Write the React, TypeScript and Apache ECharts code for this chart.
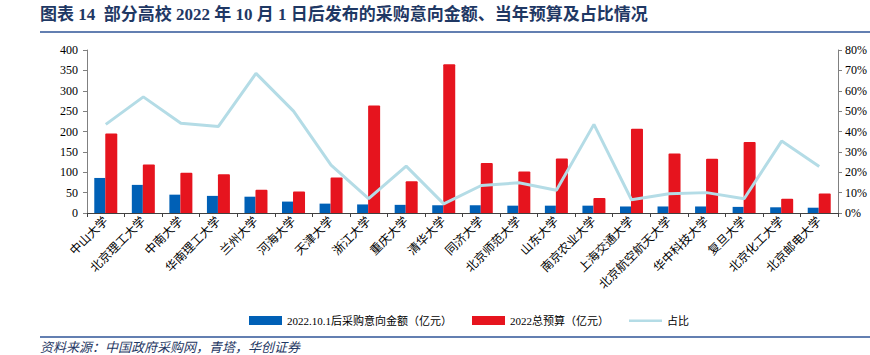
import React, { useEffect, useRef } from "react";
import * as echarts from "echarts";

const categories = [
  "中山大学", "北京理工大学", "中南大学", "华南理工大学", "兰州大学", "河海大学", "天津大学",
  "浙江大学", "重庆大学", "清华大学", "同济大学", "北京师范大学", "山东大学", "南京农业大学",
  "上海交通大学", "北京航空航天大学", "华中科技大学", "复旦大学", "北京化工大学", "北京邮电大学",
];
const intentAmount = [86, 69, 45, 42, 40, 28, 23, 21, 20, 19, 19, 18, 18, 18, 16, 16, 16, 15, 14, 13];
const budget2022 = [195, 119, 99, 95, 57, 53, 87, 264, 78, 365, 123, 102, 134, 37, 207, 146, 133, 174, 35, 48];
const ratioPct = [43.5, 57, 44, 42.5, 68.5, 50, 23.5, 7, 23, 4.5, 13.5, 14.8, 11.2, 43.5, 6.5, 9.4, 10, 7, 35.3, 22.8];

const seriesNames = ["2022.10.1后采购意向金额（亿元）", "2022总预算（亿元）", "占比"];
const titleText = "图表 14  部分高校 2022 年 10 月 1 日后发布的采购意向金额、当年预算及占比情况";
const sourceText = "资料来源：中国政府采购网，青塔，华创证券";

const SERIF = "'Liberation Serif', 'Times New Roman', 'Noto Sans CJK SC', serif";
const NAVY = "#1F3864";
const LINE_ICON = "path://M0,0 L0.01,0 L0.01,0.01 Z M0,3.5 L33,3.5 L33,6 L0,6 Z M0,9 L0.01,9 L0.01,8.99 Z";

export default function App() {
  const ref = useRef<HTMLDivElement>(null);
  useEffect(() => {
    if (!ref.current) return;
    const chart = echarts.init(ref.current, null, { renderer: "svg" });
    chart.setOption({
      animation: false,
      backgroundColor: "#ffffff",
      textStyle: { fontFamily: SERIF },
      grid: { left: 87, right: 25, top: 50, bottom: 142, containLabel: false },
      legend: {
        top: 310,
        left: 244,
        itemWidth: 33,
        itemHeight: 9,
        itemGap: 20,
        textStyle: { fontFamily: SERIF, fontSize: 11, color: "#000" },
        data: [
          { name: seriesNames[0], icon: "rect" },
          { name: seriesNames[1], icon: "rect" },
          { name: seriesNames[2], icon: LINE_ICON },
        ],
      },
      xAxis: {
        type: "category",
        data: categories,
        axisLine: { lineStyle: { color: "#404040", width: 1 } },
        axisTick: { show: true, alignWithLabel: false, length: 4, lineStyle: { color: "#404040" } },
        axisLabel: {
          rotate: 45,
          interval: 0,
          margin: 6,
          fontSize: 12,
          color: "#000",
          fontFamily: SERIF,
        },
      },
      yAxis: [
        {
          type: "value",
          min: 0,
          max: 400,
          interval: 50,
          splitLine: { show: false },
          axisLine: { show: true, lineStyle: { color: "#808080" } },
          axisTick: { show: true, length: 4, lineStyle: { color: "#808080" } },
          axisLabel: { fontSize: 12, color: "#000", margin: 9, fontFamily: SERIF },
        },
        {
          type: "value",
          min: 0,
          max: 80,
          interval: 10,
          position: "right",
          splitLine: { show: false },
          axisLine: { show: true, lineStyle: { color: "#808080" } },
          axisTick: { show: true, length: 4, lineStyle: { color: "#808080" } },
          axisLabel: { fontSize: 12, color: "#000", margin: 7, formatter: "{value}%", fontFamily: SERIF },
        },
      ],
      series: [
        {
          name: seriesNames[0],
          type: "bar",
          data: intentAmount,
          barWidth: 11,
          barGap: "0%",
          itemStyle: { color: "#0060B6" },
        },
        {
          name: seriesNames[1],
          type: "bar",
          data: budget2022,
          barWidth: 12,
          barGap: "0%",
          itemStyle: { color: "#E6141E", borderRadius: [1, 1, 0, 0] },
        },
        {
          name: seriesNames[2],
          type: "line",
          yAxisIndex: 1,
          data: ratioPct,
          symbol: "none",
          showSymbol: false,
          lineStyle: { color: "#B4DCE6", width: 3 },
          itemStyle: { color: "#B4DCE6" },
        },
      ],
      graphic: [
        {
          type: "text",
          left: 40,
          top: 6,
          style: {
            text: titleText,
            font: `bold 17px ${SERIF}`,
            fill: NAVY,
          },
        },
        {
          type: "line",
          shape: { x1: 40, y1: 32, x2: 870, y2: 32 },
          style: { stroke: "#2F5597", lineWidth: 1.5 },
        },
        {
          type: "line",
          shape: { x1: 40, y1: 337, x2: 870, y2: 337 },
          style: { stroke: "#2F5597", lineWidth: 1.5 },
        },
        {
          type: "text",
          left: 40,
          top: 341,
          style: {
            text: sourceText,
            font: `italic 13px ${SERIF}`,
            fill: NAVY,
          },
        },
      ],
    });
    return () => chart.dispose();
  }, []);
  return (
    <div
      ref={ref}
      style={{ position: "fixed", left: 0, top: 0, width: 870, height: 355 }}
    />
  );
}
